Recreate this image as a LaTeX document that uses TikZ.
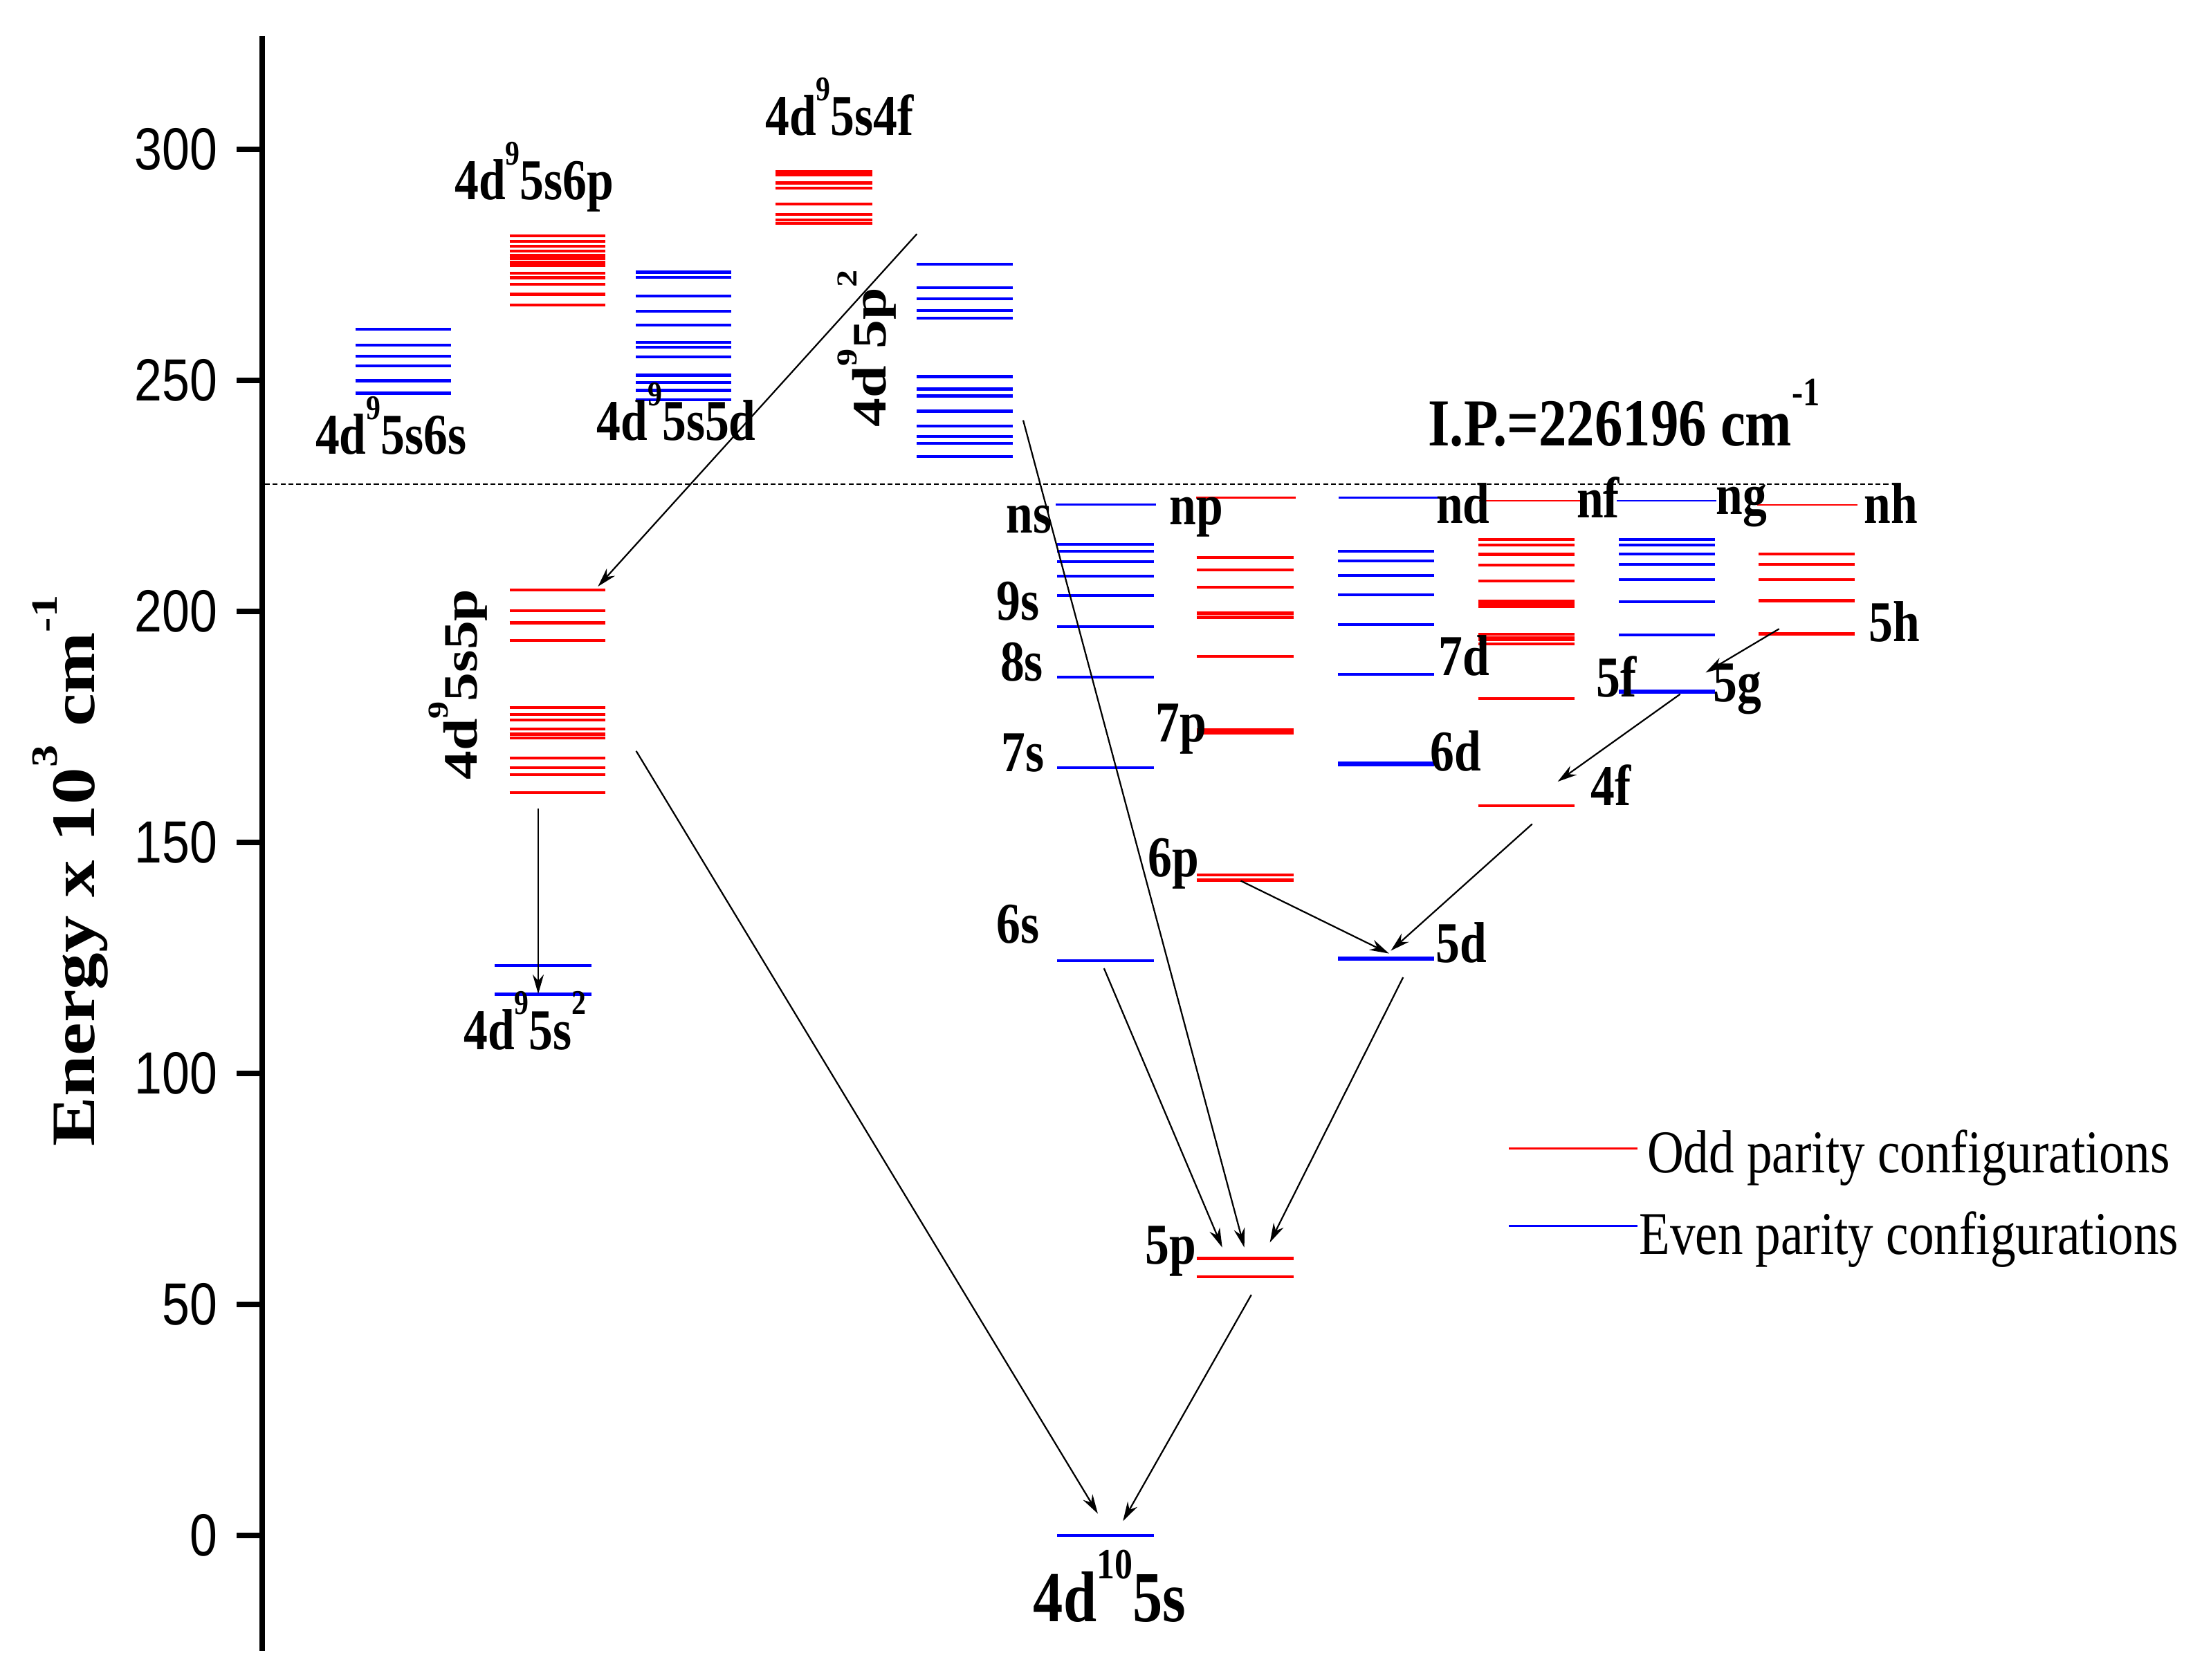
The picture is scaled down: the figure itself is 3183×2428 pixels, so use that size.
\documentclass[tikz,border=0pt]{standalone}
\usepackage{graphicx}
\usepackage{fontspec}
\setmainfont{Liberation Serif}
\setsansfont{Liberation Sans}
\usetikzlibrary{arrows.meta}

\newcommand{\vstr}[1]{\scalebox{1}[1.2]{#1}}
\newcommand{\hstr}[1]{\scalebox{1.2}[1]{#1}}
\newcommand{\sps}[1]{\raisebox{0.6em}{\scalebox{0.6}{#1}}}

\tikzset{
  oddlvl/.style={red, line width=0.6pt},
  evenlvl/.style={blue, line width=0.6pt},
  oddlim/.style={red, line width=0.36pt},
  evenlim/.style={blue, line width=0.36pt},
  axisline/.style={line width=1.14pt},
  trans/.style={-{Stealth[length=1.4mm,width=0.8mm]}, line width=0.32pt},
  lab/.style={anchor=base west, inner sep=0pt, font=\fontsize{9.9}{12}\selectfont\bfseries},
  ticklab/.style={anchor=east, inner sep=0pt, font=\sffamily\fontsize{10.2}{12}\selectfont},
  leglab/.style={anchor=base west, inner sep=0pt, font=\fontsize{10.4}{12}\selectfont},
}

\begin{document}
\begin{tikzpicture}[x=0.05mm, y=-0.05mm]
\useasboundingbox (0,0) rectangle (3183,2428);

\draw[axisline] (379,52) -- (379,2387);
\draw[dash pattern=on 1pt off 0.6pt, line width=0.3pt] (383,700.4) -- (2733,700.4);

% levels, energy in 10^3 cm^-1
\begin{scope}[shift={(0,2219.6)}, y=0.33395mm]
  \foreach \e in {0,50,...,300} {
    \draw[axisline] (342,\e) -- (379,\e);
    \node[ticklab] (tick\e) at (316,\e) {\vstr{\e}};
  }

  \foreach \e in {261.1,257.6,255.2,253.1,249.9,247.2}
    \draw[evenlvl] (513.5,\e) -- (652.4,\e);
  \foreach \e in {281.2,280.1,279.0,278.0,277.0,276.3,275.6,274.9,273.2,272.2,270.8,268.6,266.3}
    \draw[oddlvl] (736.6,\e) -- (874.8,\e);
  \foreach \e in {273.4,272.3,268.2,264.9,262.0,258.2,257.1,255.0,251.1,249.5,247.8,245.8}
    \draw[evenlvl] (919,\e) -- (1057,\e);
  \foreach \e in {295.1,294.4,292.7,291.6,288.1,285.9,284.7,283.9}
    \draw[oddlvl] (1121,\e) -- (1261,\e);
  \foreach \e in {275.1,270.0,267.6,265.1,263.4,250.8,248.1,246.6,243.3,240.1,237.8,236.4,233.5}
    \draw[evenlvl] (1325,\e) -- (1464.3,\e);
  \foreach \e in {204.6,200.1,197.5,193.7,179.1,177.7,176.5,174.5,173.4,172.6,168.2,166.1,164.6,160.7}
    \draw[oddlvl] (736.6,\e) -- (874.8,\e);
  \foreach \e in {123.3,117.1}
    \draw[evenlvl] (715,\e) -- (855,\e);

  \draw[evenlim] (1526,223.1) -- (1671,223.1);
  \foreach \e in {214.5,213.0,210.7,207.6,203.4,196.7,185.7,166.1,124.3,0}
    \draw[evenlvl] (1528,\e) -- (1668,\e);
  \draw[oddlim] (1729,224.6) -- (1873,224.6);
  \foreach \e in {211.6,208.9,205.2,199.6,198.7,190.2,174.3,173.6,142.9,141.8,59.9,55.9}
    \draw[oddlvl] (1729.7,\e) -- (1870,\e);
  \draw[evenlim] (1935,224.6) -- (2079,224.6);
  \foreach \e in {213.0,210.9,207.8,203.5,197.1,186.3,167.2,166.7,125.0,124.6}
    \draw[evenlvl] (1933.8,\e) -- (2072.9,\e);
  \draw[oddlim] (2138,223.9) -- (2287,223.9);
  \foreach \e in {215.5,214.3,212.3,210.0,206.6,202.2,201.7,201.1,195.0,194.3,193.8,192.9,181.1,157.9}
    \draw[oddlvl] (2136.7,\e) -- (2275.7,\e);
  \draw[evenlim] (2337,223.9) -- (2481,223.9);
  \foreach \e in {215.5,214.3,212.4,210.2,206.8,202.1,194.9,182.8,182.4}
    \draw[evenlvl] (2339.8,\e) -- (2479.2,\e);
  \draw[oddlim] (2540,223.0) -- (2685,223.0);
  \foreach \e in {212.4,210.2,206.8,202.3,195.1}
    \draw[oddlvl] (2542,\e) -- (2680.8,\e);
\end{scope}

\node[lab] (c6s) at (454.6,656.6) {\vstr{4d\sps{9}5s6s}};
\node[lab] (c6p) at (656,288.5) {\vstr{4d\sps{9}5s6p}};
\node[lab] (c5d) at (861.5,636.7) {\vstr{4d\sps{9}5s5d}};
\node[lab] (c4f) at (1105,195.4) {\vstr{4d\sps{9}5s4f}};
\node[lab] (cs2) at (669,1517) {\vstr{4d\sps{9}5s\sps{2}}};
\node[lab, rotate=90, anchor=base] (c5p) at (689.4,989.6) {\hstr{4d\sps{9}5s5p}};
\node[lab, rotate=90, anchor=base] (cp2) at (1280.6,504) {\hstr{4d\sps{9}5p\sps{2}}};
\node[lab, font=\fontsize{12.3}{14}\selectfont\bfseries] (cgs) at (1492.5,2344.6) {\vstr{4d\sps{10}5s}};

\node[lab] (ns) at (1453,770.4) {\vstr{ns}};
\node[lab] (s9) at (1439.5,896.4) {\vstr{9s}};
\node[lab] (s8) at (1444.6,984) {\vstr{8s}};
\node[lab] (s7) at (1446,1115.3) {\vstr{7s}};
\node[lab] (s6) at (1439.5,1363) {\vstr{6s}};
\node[lab] (np) at (1689,758) {\vstr{np}};
\node[lab] (p7) at (1669,1072.4) {\vstr{7p}};
\node[lab] (p6) at (1658,1267.3) {\vstr{6p}};
\node[lab] (p5) at (1654,1827) {\vstr{5p}};
\node[lab] (nd) at (2074.8,756.1) {\vstr{nd}};
\node[lab] (d7) at (2078,976.5) {\vstr{7d}};
\node[lab] (d6) at (2066.5,1114) {\vstr{6d}};
\node[lab] (d5) at (2074,1391) {\vstr{5d}};
\node[lab] (nf) at (2277.6,748) {\vstr{nf}};
\node[lab] (f5) at (2306,1007.5) {\vstr{5f}};
\node[lab] (f4) at (2298,1164.8) {\vstr{4f}};
\node[lab] (ng) at (2479,743.9) {\vstr{ng}};
\node[lab] (g5) at (2475,1014.3) {\vstr{5g}};
\node[lab] (nh) at (2693,756.6) {\vstr{nh}};
\node[lab] (h5) at (2700,927.5) {\vstr{5h}};

\node[lab, font=\fontsize{11.5}{14}\selectfont\bfseries] (ip) at (2063,644.4) {\vstr{I.P.=226196 cm\sps{-1}}};
\node[lab, rotate=90, anchor=base, font=\fontsize{12.7}{14}\selectfont\bfseries] (ylab) at (136,1259) {\hstr{Energy x 10\sps{3} cm\sps{-1}}};

\coordinate (p2up) at (1325.3,338.3);
\coordinate (s5pin) at (864.3,848);
\coordinate (p2low) at (1479,607.6);
\coordinate (p5inb) at (1798.6,1803.6);
\coordinate (s5pbot) at (778,1169);
\coordinate (s2in) at (778,1437);
\coordinate (s5pout) at (919.6,1085.8);
\coordinate (gsina) at (1586.9,2188.5);
\coordinate (s6out) at (1595.8,1400);
\coordinate (p5ina) at (1766.7,1803.6);
\coordinate (d5out) at (2028.2,1413);
\coordinate (p5inc) at (1835.6,1796.4);
\coordinate (p5out) at (1808.8,1872);
\coordinate (gsinb) at (1623.2,2199.2);
\coordinate (p6out) at (1793.5,1273.5);
\coordinate (d5ina) at (2007.8,1378.6);
\coordinate (f4out) at (2214.8,1191.3);
\coordinate (d5inb) at (2010.4,1374.5);
\coordinate (g5out) at (2428.6,1003.6);
\coordinate (f4in) at (2251.6,1130.1);
\coordinate (h5out) at (2571.7,909.2);
\coordinate (g5in) at (2465.5,972.4);

\draw[trans] (p2up) -- (s5pin);
\draw[trans] (p2low) -- (p5inb);
\draw[trans] (s5pbot) -- (s2in);
\draw[trans] (s5pout) -- (gsina);
\draw[trans] (s6out) -- (p5ina);
\draw[trans] (d5out) -- (p5inc);
\draw[trans] (p5out) -- (gsinb);
\draw[trans] (p6out) -- (d5ina);
\draw[trans] (f4out) -- (d5inb);
\draw[trans] (g5out) -- (f4in);
\draw[trans] (h5out) -- (g5in);

\coordinate (oddl) at (2180.8,1660.3);
\coordinate (oddr) at (2367.3,1660.3);
\coordinate (evenl) at (2180.8,1772.3);
\coordinate (evenr) at (2367.3,1772.3);
\draw[oddlim] (oddl) -- (oddr);
\draw[evenlim] (evenl) -- (evenr);
\node[leglab] (oddtxt) at (2379.7,1695) {\vstr{Odd parity configurations}};
\node[leglab] (eventxt) at (2368,1813.3) {\vstr{Even parity configurations}};

\end{tikzpicture}
\end{document}
